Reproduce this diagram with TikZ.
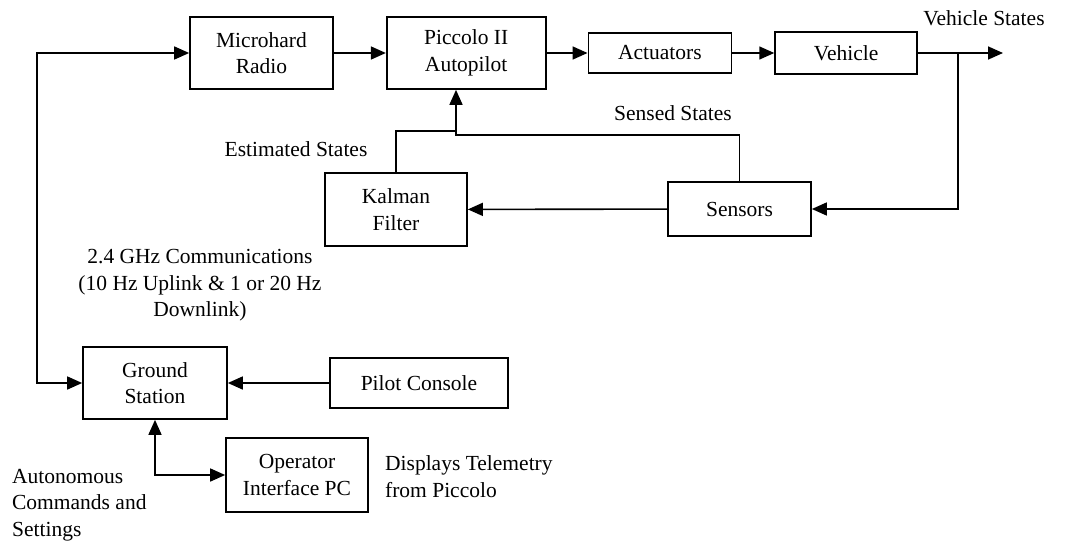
\documentclass[tikz,border=0pt]{standalone}
\usepackage{fontspec}
\setmainfont{Liberation Serif}
\usetikzlibrary{arrows.meta,positioning}

\begin{document}
\begin{tikzpicture}[x=1pt,y=-1pt,>={Triangle[length=15pt,width=13pt]},line width=1.6pt,
                    every node/.style={font=\fontsize{21.5}{26.5}\selectfont},
                    blok/.style={draw,line width=1.7pt,minimum width=143pt,minimum height=72pt,
                                 inner sep=2pt,align=center}]

        \useasboundingbox (0,0) rectangle (1070,543);

        % top row
        \node[blok] (radio) at (261.5,53) {Microhard\\Radio};
        \node[blok,minimum width=159pt] (piccolo) [right=52pt of radio] {Piccolo II\\Autopilot};
        \node[blok,minimum height=40pt] (act) [right=41pt of piccolo] {Actuators};
        \node[blok,minimum width=142pt,minimum height=42pt] (veh) [right=42pt of act] {Vehicle};

        % feedback
        \node[blok,minimum width=142pt,minimum height=73pt] (kalman) at (396,209.5) {Kalman\\Filter};
        \node[blok,minimum height=54pt] (sensors) at (739.5,209) {Sensors};

        % ground side
        \node[blok,minimum width=144pt] (ground) at (155,383) {Ground\\Station};
        \node[blok,minimum width=178pt,minimum height=50pt] (pilot) at (419,383) {Pilot Console};
        \node[blok,minimum width=142pt,minimum height=74pt] (opi) at (297,475) {Operator\\Interface PC};

        % labels
        \node (vslbl) at (984,18) {Vehicle States};
        \node (sslbl) at (673,113) {Sensed States};
        \node (eslbl) at (296,149) {Estimated States};
        \node[align=center] (comlbl) at (200,285.5) {2.4 GHz Communications\\(10 Hz Uplink \& 1 or 20 Hz\\Downlink)};
        \node[align=left,anchor=west] (tmlbl) at (381,476.5) {Displays Telemetry\\from Piccolo};
        \node[align=left,anchor=west] (aclbl) at (8,505) {Autonomous\\Commands and\\Settings};

        \coordinate (lc) at (37,200);
        \coordinate (vb) at (958,53);
        \coordinate (vout) at (1003,53);
        \coordinate (sin) at (456,135);
        \coordinate (kin) at (456,131);

        \draw[<->] (ground.west) -| (lc) |- (radio.west);
        \draw[->] (radio) -- (piccolo);
        \draw[->] (piccolo) -- (act);
        \draw[->] (act) -- (veh);
        \draw[->] (veh) -- (vout);
        \draw[->] (vb) |- (sensors.east);
        \draw[->] (sensors) -- (kalman);
        \draw[->] (sensors.north) |- (sin) -- (sin |- piccolo.south);
        \draw (kalman.north) |- (kin);
        \draw[->] (pilot) -- (ground);
        \draw[<->] (ground.south) |- (opi.west);
      \end{tikzpicture}
\end{document}
